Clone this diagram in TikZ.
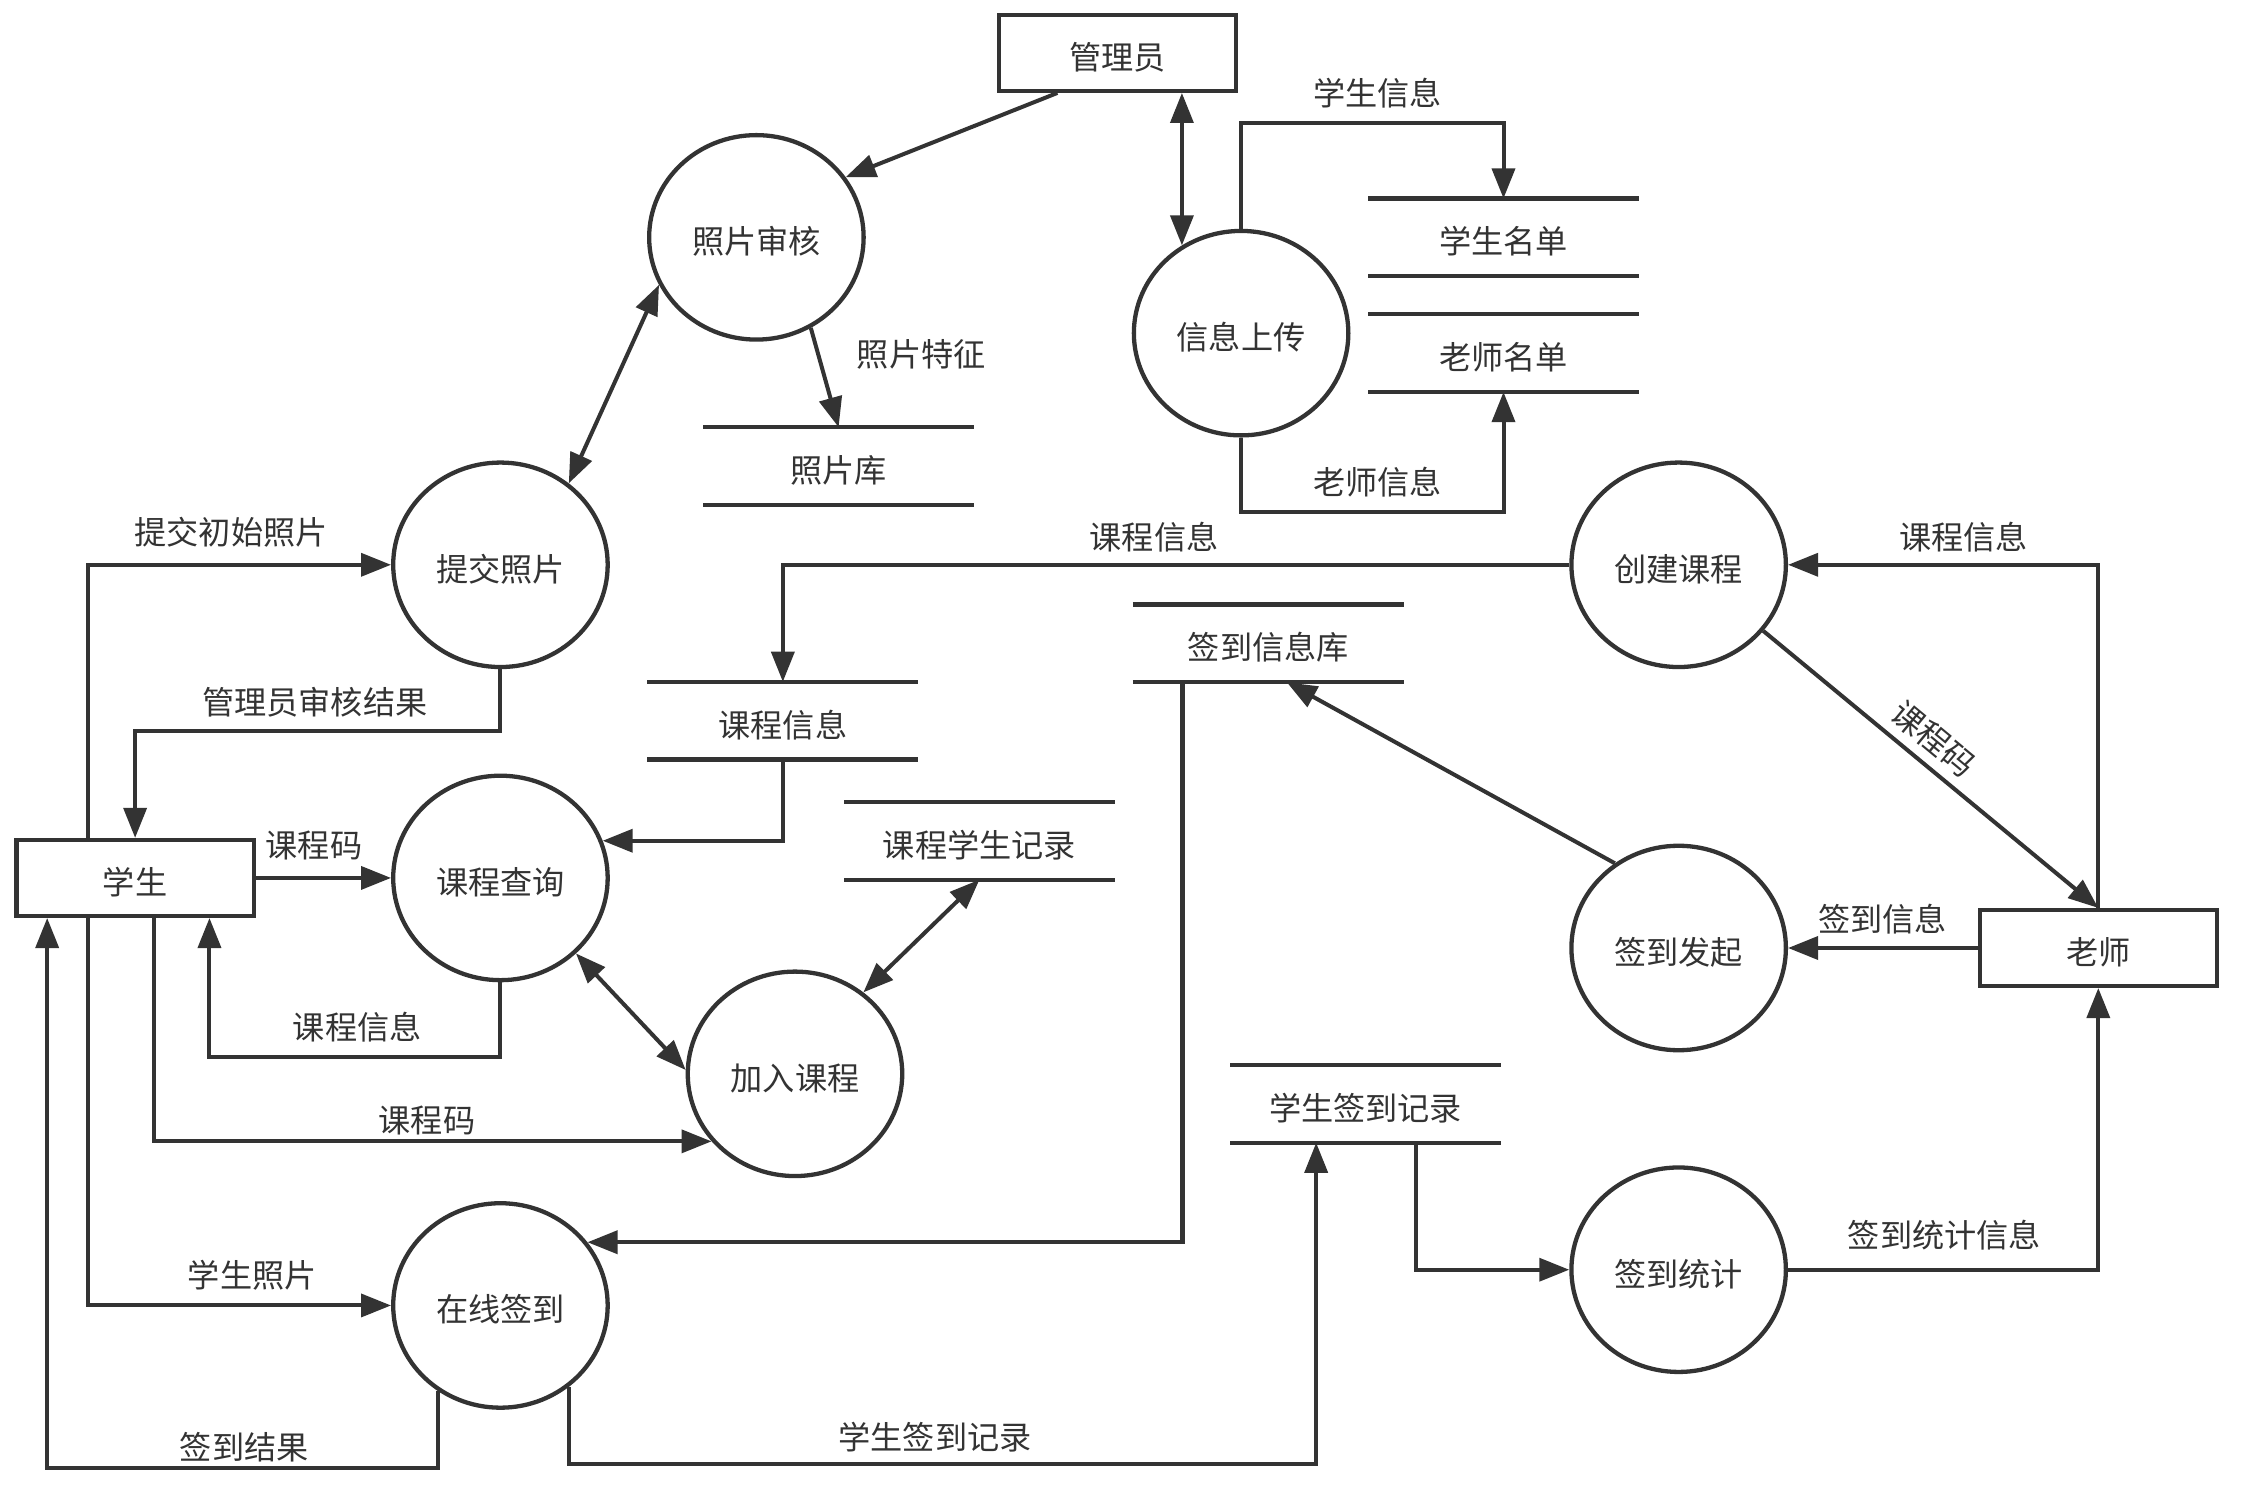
\documentclass[tikz,border=0pt]{standalone}
\usepackage{fontspec}
\setmainfont{Noto Sans CJK SC}
\usetikzlibrary{arrows.meta,shapes.geometric}
\definecolor{ink}{HTML}{333333}
\begin{document}
\begin{tikzpicture}[x=1pt,y=-1pt,
  font=\fontsize{22.5}{27}\selectfont,
  every node/.style={text=ink},
  proc/.style={ellipse, draw=ink, line width=3pt, minimum width=150pt, minimum height=143pt, inner sep=0pt, text height=24pt, text depth=1pt},
  ent/.style={rectangle, draw=ink, line width=3pt, minimum width=166pt, minimum height=53pt, inner sep=0pt, text height=24pt, text depth=1pt},
  store/.style={rectangle, minimum width=189pt, minimum height=54pt, inner sep=0pt, text height=24pt, text depth=1pt},
  sline/.style={draw=ink, line width=3pt},
  flow/.style={draw=ink, line width=2.8pt, -{Triangle[length=21pt,width=16pt]}},
  bflow/.style={draw=ink, line width=2.8pt, {Triangle[length=21pt,width=16pt]}-{Triangle[length=21pt,width=16pt]}},
  lbl/.style={inner sep=0pt, anchor=center}
]
\fill[white] (0,0) rectangle (1568,1041);
\useasboundingbox (0,0) rectangle (1568,1041);

% external entities
\node[ent] (adm) at (781.5,37) {管理员};
\node[ent] (xs) at (94.5,614) {学生};
\node[ent] (ls) at (1467.5,663) {老师};

% processes
\node[proc] (zhsh) at (529,166) {照片审核};
\node[proc] (tjzp) at (350,395) {提交照片};
\node[proc] (xxsc) at (868,233) {信息上传};
\node[proc] (cjkc) at (1174,395) {创建课程};
\node[proc] (kccx) at (350,614) {课程查询};
\node[proc] (jrkc) at (556,751) {加入课程};
\node[proc] (zxqd) at (350,913) {在线签到};
\node[proc] (qdfq) at (1174,663) {签到发起};
\node[proc] (qdtj) at (1174,888) {签到统计};

% data stores
\node[store] (zpk) at (586.5,326) {照片库};
\node[store] (xsmd) at (1051.5,166) {学生名单};
\node[store] (lsmd) at (1051.5,247) {老师名单};
\node[store] (qdk) at (887,450) {签到信息库};
\node[store] (kcxx) at (547.5,504) {课程信息};
\node[store] (kcxsjl) at (685,588) {课程学生记录};
\node[store] (xsqdjl) at (955,772) {学生签到记录};
\foreach \s in {zpk,xsmd,lsmd,qdk,kcxx,kcxsjl,xsqdjl}
  \draw[sline] (\s.north west) -- (\s.north east) (\s.south west) -- (\s.south east);

% flows
\draw[flow] ([xshift=-42pt]adm.south) -- (zhsh.34);
\draw[bflow] (zhsh.206) -- (tjzp.50);
\draw[flow] (zhsh.-59) -- (zpk.north) node[lbl, pos=0.27, xshift=72pt] (l1) {照片特征};
\draw[bflow] (xxsc.124 |- adm.south) -- (xxsc.124);
\draw[flow] (xxsc.north) -- ++(0,-74) -| (xsmd.north) node[lbl, pos=0.26, yshift=21pt] (l2) {学生信息};
\draw[flow] (xxsc.south) -- ++(0,52) -| (lsmd.south) node[lbl, pos=0.26, yshift=21pt] (l3) {老师信息};
\draw[flow] (cjkc.west) -| (kcxx.north) node[lbl, pos=0.264, yshift=19pt] (l4) {课程信息};
\draw[flow] (ls.north) |- (cjkc.east) node[lbl, pos=0.717, yshift=19pt] (l5) {课程信息};
\draw[flow] (cjkc.-38) -- (ls.north) node[lbl, pos=0.46, sloped, above=6pt] (l6) {课程码};
\draw[flow] (qdfq.127) -- ([xshift=13pt]qdk.south);
\draw[flow] (ls.west) -- (qdfq.east) node[lbl, pos=0.5, yshift=20pt] (l7) {签到信息};
\draw[flow] ([xshift=-60pt]qdk.south) |- (zxqd.36);
\draw[flow] ([xshift=-33pt]xs.north) |- (tjzp.west) node[lbl, pos=0.736, yshift=23pt] (l8) {提交初始照片};
\draw[flow] (tjzp.south) -- ++(0,43) -| (xs.north) node[lbl, pos=0.254, yshift=20pt] (l9) {管理员审核结果};
\draw[flow] (xs.east) -- (kccx.west) node[lbl, pos=0.43, yshift=23pt] (l10) {课程码};
\draw[flow] (kcxx.south) |- (kccx.20);
\draw[flow] (kccx.south) -- ++(0,52) -| ([xshift=52pt]xs.south) node[lbl, pos=0.246, yshift=20.5pt] (l11) {课程信息};
\draw[bflow] (kccx.315) -- (jrkc.178);
\draw[bflow] (kcxsjl.south) -- (jrkc.50);
\draw[flow] ([xshift=13pt]xs.south) |- (jrkc.219) node[lbl, pos=0.745, yshift=14.5pt] (l12) {课程码};
\draw[flow] ([xshift=-33pt]xs.south) |- (zxqd.west) node[lbl, pos=0.771, yshift=21.5pt] (l13) {学生照片};
\draw[flow] (zxqd.234) -- ++(0,54) -| ([xshift=-61.5pt]xs.south) node[lbl, pos=0.248, yshift=15pt] (l14) {签到结果};
\draw[flow] (zxqd.-50) -- ++(0,54) -| ([xshift=-34.5pt]xsqdjl.south) node[lbl, pos=0.245, yshift=19pt] (l15) {学生签到记录};
\draw[flow] ([xshift=35.5pt]xsqdjl.south) |- (qdtj.west);
\draw[flow] (qdtj.east) -| (ls.south) node[lbl, pos=0.252, yshift=24pt] (l16) {签到统计信息};
\end{tikzpicture}
\end{document}
